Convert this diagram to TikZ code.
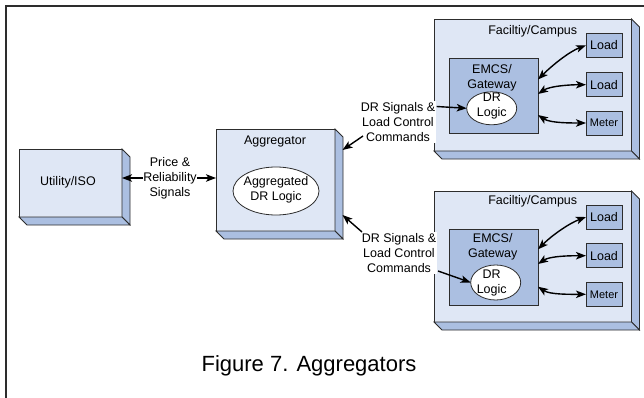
\documentclass[tikz,border=0pt]{standalone}
\usepackage{fontspec}
\setmainfont{Liberation Sans}
\usetikzlibrary{arrows.meta,calc,shapes.geometric}
\definecolor{facefill}{RGB}{223,231,245}
\definecolor{sidefill}{RGB}{171,191,225}
\definecolor{edgegray}{RGB}{45,45,45}

\newcommand{\sidefaces}[1]{%
\filldraw[sideface] (#1.north east) -- ++(8,8) -- ($(#1.south east)+(8,8)$) -- (#1.south east) -- cycle;
\filldraw[sideface] (#1.south west) -- ++(8,8) -- ($(#1.south east)+(8,8)$) -- (#1.south east) -- cycle;}

\tikzset{
  frontbox/.style={draw=edgegray, fill=facefill, line width=0.8pt, inner sep=0pt, outer sep=0pt},
  sideface/.style={draw=edgegray, fill=sidefill, line width=0.8pt},
  innerbox/.style={draw=edgegray, fill=sidefill, line width=0.8pt, inner sep=0pt, outer sep=0pt},
  loadbox/.style={innerbox, minimum width=36pt, minimum height=24pt, font=\fontsize{12.5}{15}\selectfont},
  logic/.style={ellipse, draw=edgegray, fill=white, line width=0.8pt, inner sep=0pt, outer sep=0pt},
  txt/.style={font=\fontsize{12.5}{15}\selectfont, align=center, inner sep=0pt},
  sig/.style={-{Stealth[length=10pt,width=7.5pt,inset=2.5pt]}, line width=1.4pt},
  dsig/.style={{Stealth[length=10pt,width=7.5pt,inset=2.5pt]}-{Stealth[length=10pt,width=7.5pt,inset=2.5pt]}, line width=1.4pt}
}

\begin{document}
\begin{tikzpicture}[x=1pt,y=-1pt]
\useasboundingbox (0,0) rectangle (644,398);
\draw[line width=1.5pt,edgegray] (6,398) -- (6,6) -- (644,6);

% utility and aggregator
\node[frontbox,minimum width=103pt,minimum height=68pt] (util) at (70.5,183) {};
\sidefaces{util}
\node[txt] (utiltxt) at (68,182) {Utility/ISO};

\node[frontbox,minimum width=119pt,minimum height=102pt] (agg) at (275.5,180) {};
\sidefaces{agg}
\node[txt] (aggtxt) at (275,141) {Aggregator};
\node[logic,minimum width=86pt,minimum height=48pt] (agglogic) at (276,191) {};
\node[txt] (agglogictxt) at (276,190) {Aggregated\\DR Logic};

\coordinate (pricemid) at (170,178);
\draw[dsig] (util.east |- pricemid) -- (agg.west |- pricemid);
\node[txt,fill=white] (price) at (pricemid) {Price \&\\Reliability\\Signals};

% facility A
\node[frontbox,minimum width=197.5pt,minimum height=132pt] (facA) at (532.75,85) {};
\sidefaces{facA}
\node[txt] (facAtxt) at (532.7,31) {Faciltiy/Campus};
\node[innerbox,minimum width=89pt,minimum height=75pt] (emcsA) at (493.5,95.5) {};
\node[txt] (emcsAtxt) at (492,77.5) {EMCS/\\Gateway};
\node[logic,minimum width=50pt,minimum height=33pt] (logicA) at (491.7,108.3) {};
\node[txt] (logicAtxt) at (491.8,106) {DR\\Logic};
\node[loadbox] (loadA1) at (604,45.3) {Load};
\node[loadbox] (loadA2) at (604,84.7) {Load};
\node[loadbox,font=\fontsize{11}{13}\selectfont] (meterA) at (604,123) {Meter};
\draw[dsig] ($(emcsA.east)+(0,-16)$) .. controls +(15,-15) and +(-16,6) .. (loadA1.west);
\draw[dsig] ($(emcsA.east)+(0,-1.5)$) .. controls +(12,-8) and +(-16,0) .. (loadA2.west);
\draw[dsig] ($(emcsA.east)+(0,19.5)$) .. controls +(12,8) and +(-16,0) .. (meterA.west);

\node[txt,fill=white,inner sep=1pt] (drA) at (398,122) {DR Signals \&\\Load Control\\Commands};
\coordinate (drAout) at (436.7,106.5);
\coordinate (drAin) at (363,136);
\draw[sig] (drAout) -- (logicA.west);
\draw[sig] (drAin) -- ($(agg.north east)+(7.5,21)$);

% facility B
\node[frontbox,minimum width=197.5pt,minimum height=131pt] (facB) at (532.75,256.5) {};
\sidefaces{facB}
\node[txt] (facBtxt) at (532.7,201) {Faciltiy/Campus};
\node[innerbox,minimum width=89pt,minimum height=76pt] (emcsB) at (493.5,267) {};
\node[txt] (emcsBtxt) at (492.7,246.5) {EMCS/\\Gateway};
\node[logic,minimum width=50pt,minimum height=35pt] (logicB) at (495.7,282.5) {};
\node[txt] (logicBtxt) at (491.7,283) {DR\\Logic};
\node[loadbox] (loadB1) at (604,217) {Load};
\node[loadbox] (loadB2) at (604,255.7) {Load};
\node[loadbox,font=\fontsize{11}{13}\selectfont] (meterB) at (604,294.3) {Meter};
\draw[dsig] ($(emcsB.east)+(0,-17.7)$) .. controls +(15,-15) and +(-16,6) .. (loadB1.west);
\draw[dsig] ($(emcsB.east)+(0,-3)$) .. controls +(12,-8) and +(-16,0) .. (loadB2.west);
\draw[dsig] ($(emcsB.east)+(0,19.7)$) .. controls +(12,8) and +(-16,0) .. (meterB.west);

\node[txt,fill=white,inner sep=1pt] (drB) at (399,253) {DR Signals \&\\Load Control\\Commands};
\coordinate (drBout) at (438,271);
\coordinate (drBin) at (362,232);
\draw[sig] (drBout) -- (logicB.west);
\draw[sig] (drBin) -- ($(agg.north east)+(7.5,86)$);

\node[font=\fontsize{22}{26}\selectfont,anchor=base,inner sep=0pt] (caption) at (309,371) {Figure 7. Aggregators};
\end{tikzpicture}
\end{document}
